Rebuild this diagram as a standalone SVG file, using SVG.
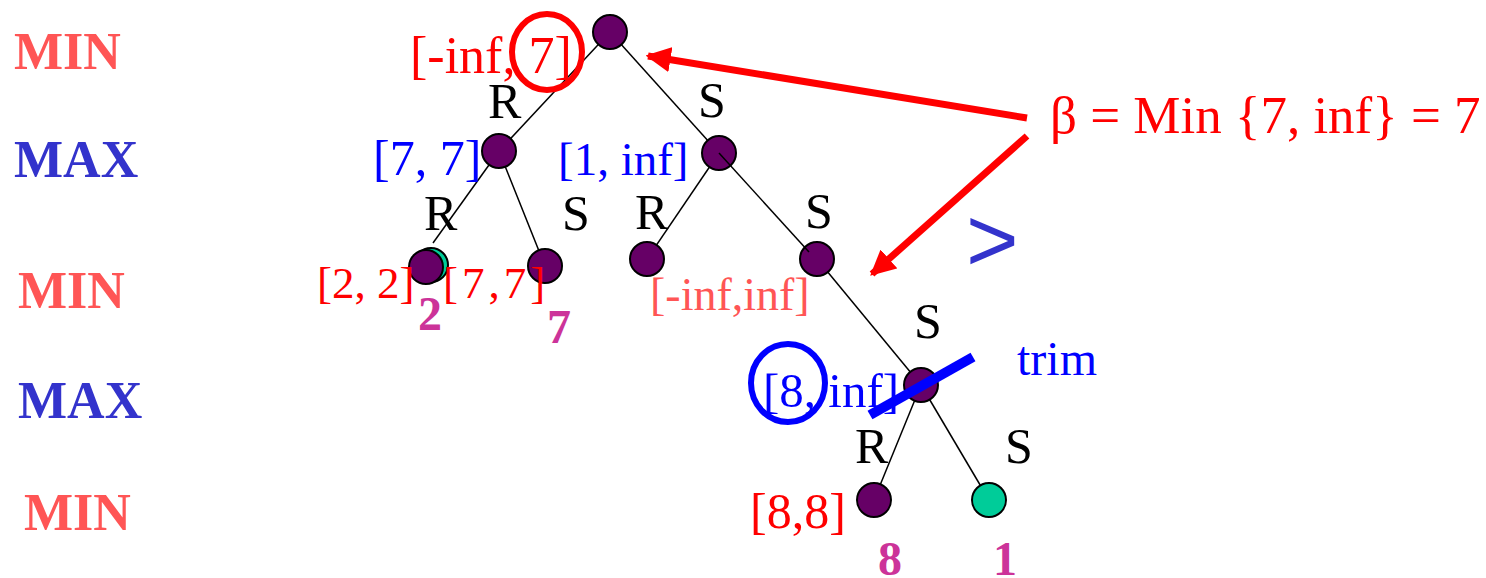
<svg xmlns="http://www.w3.org/2000/svg" width="1486" height="578" viewBox="0 0 1486 578">
<defs>
<style>
.n{fill:#660066;stroke:#000;stroke-width:2}
.g{fill:#00CC99;stroke:#000;stroke-width:2}
.e{stroke:#000;stroke-width:1.5;fill:none}
.t{font-family:"Liberation Serif","Times New Roman",serif}
.lvl{font-family:"Liberation Serif","Times New Roman",serif;font-weight:bold;font-size:52px}
.lab{font-family:"Liberation Serif","Times New Roman",serif;font-size:50px;fill:#000}
.red{fill:#FF0000}
.blue{fill:#0000FF}
.val{font-family:"Liberation Serif","Times New Roman",serif;font-weight:bold;font-size:48px;fill:#CC3399}
</style>
<marker id="ah" viewBox="0 0 10 10" refX="9" refY="5" markerWidth="3.6" markerHeight="3.6" orient="auto" markerUnits="strokeWidth">
<path d="M0,0 L10,5 L0,10 z" fill="#FF0000"/>
</marker>
</defs>
<rect width="1486" height="578" fill="#fff"/>
<g id="levels">
<text class="lvl" x="14" y="69" fill="#FF5555">MIN</text>
<text class="lvl" x="14" y="177" fill="#3333CC">MAX</text>
<text class="lvl" x="18" y="308" fill="#FF5555">MIN</text>
<text class="lvl" x="18" y="418" fill="#3333CC">MAX</text>
<text class="lvl" x="24" y="530" fill="#FF5555">MIN</text>
</g>
<g id="connectors">
<line class="e" x1="610" y1="32" x2="499" y2="151"/>
<line class="e" x1="610" y1="32" x2="719" y2="153"/>
<line class="e" x1="499" y1="151" x2="433" y2="243"/>
<line class="e" x1="499" y1="151" x2="545" y2="266"/>
<line class="e" x1="719" y1="153" x2="647" y2="259"/>
<line class="e" x1="817" y1="259" x2="921" y2="385"/>
<line class="e" x1="921" y1="385" x2="874" y2="500"/>
<line class="e" x1="921" y1="385" x2="989" y2="500"/>
</g>
<g id="root"><circle class="n" cx="610" cy="32" r="17"/></g>
<g id="nA"><circle class="n" cx="499" cy="151" r="17"/></g>
<g id="nB"><circle class="n" cx="719" cy="153" r="17"/></g>
<g id="leaf2"><circle class="g" cx="431" cy="265" r="17"/><circle class="n" cx="426" cy="267" r="17"/></g>
<g id="leaf7"><circle class="n" cx="545" cy="266" r="17"/></g>
<g id="nC"><circle class="n" cx="647" cy="259" r="17"/></g>
<g id="nD"><circle class="n" cx="817" cy="259" r="17"/></g>
<g id="nE"><circle class="n" cx="921" cy="385" r="17"/></g>
<g id="leaf8"><circle class="n" cx="874" cy="500" r="17"/></g>
<g id="leaf1"><circle class="g" cx="989" cy="500" r="17"/></g>
<g id="edge-over"><line class="e" x1="719" y1="153" x2="809" y2="252"/></g>
<g id="edge-labels">
<text class="lab" x="488" y="118">R</text>
<text class="lab" x="698" y="117">S</text>
<text class="lab" x="424" y="230">R</text>
<text class="lab" x="562" y="230">S</text>
<text class="lab" x="635" y="229">R</text>
<text class="lab" x="805" y="228">S</text>
<text class="lab" x="914" y="338">S</text>
<text class="lab" x="855" y="463">R</text>
<text class="lab" x="1005" y="463">S</text>
</g>
<g id="bounds">
<text class="t red" x="410" y="73" font-size="52">[-inf, 7]</text>
<text class="t blue" x="373" y="175" font-size="50">[7, 7]</text>
<text class="t blue" x="558" y="175" font-size="47">[1, inf]</text>
<text class="t red" x="317" y="298" font-size="45">[2, 2]</text>
<text class="t red" x="443" y="298" font-size="45" letter-spacing="4">[7,7]</text>
<text class="t" x="650" y="310" font-size="46" fill="#FF5555">[-inf,inf]</text>
<text class="t blue" x="763" y="407" font-size="49">[8, inf]</text>
<text class="t red" x="750" y="528" font-size="50">[8,8]</text>
<text class="t blue" x="1017" y="375" font-size="48">trim</text>
</g>
<g id="values">
<text class="val" x="418" y="330">2</text>
<text class="val" x="547" y="343">7</text>
<text class="val" x="878" y="575">8</text>
<text class="val" x="993" y="575">1</text>
</g>
<g id="annotations">
<ellipse cx="547" cy="52" rx="35" ry="38" fill="none" stroke="#FF0000" stroke-width="6"/>
<ellipse cx="788" cy="383" rx="37" ry="39" fill="none" stroke="#0000FF" stroke-width="6"/>
<line x1="870" y1="415" x2="973" y2="357" stroke="#0000FF" stroke-width="10"/>
<text x="966" y="271" font-family="Liberation Sans, Arial, sans-serif" font-size="90" fill="#3333CC">&gt;</text>
<text class="t red" x="1050" y="133" font-size="53">β = Min {7, inf} = 7</text>
<line x1="1027" y1="118" x2="648" y2="56" stroke="#FF0000" stroke-width="7" marker-end="url(#ah)"/>
<line x1="1027" y1="136" x2="872" y2="274" stroke="#FF0000" stroke-width="7" marker-end="url(#ah)"/>
</g>
</svg>
